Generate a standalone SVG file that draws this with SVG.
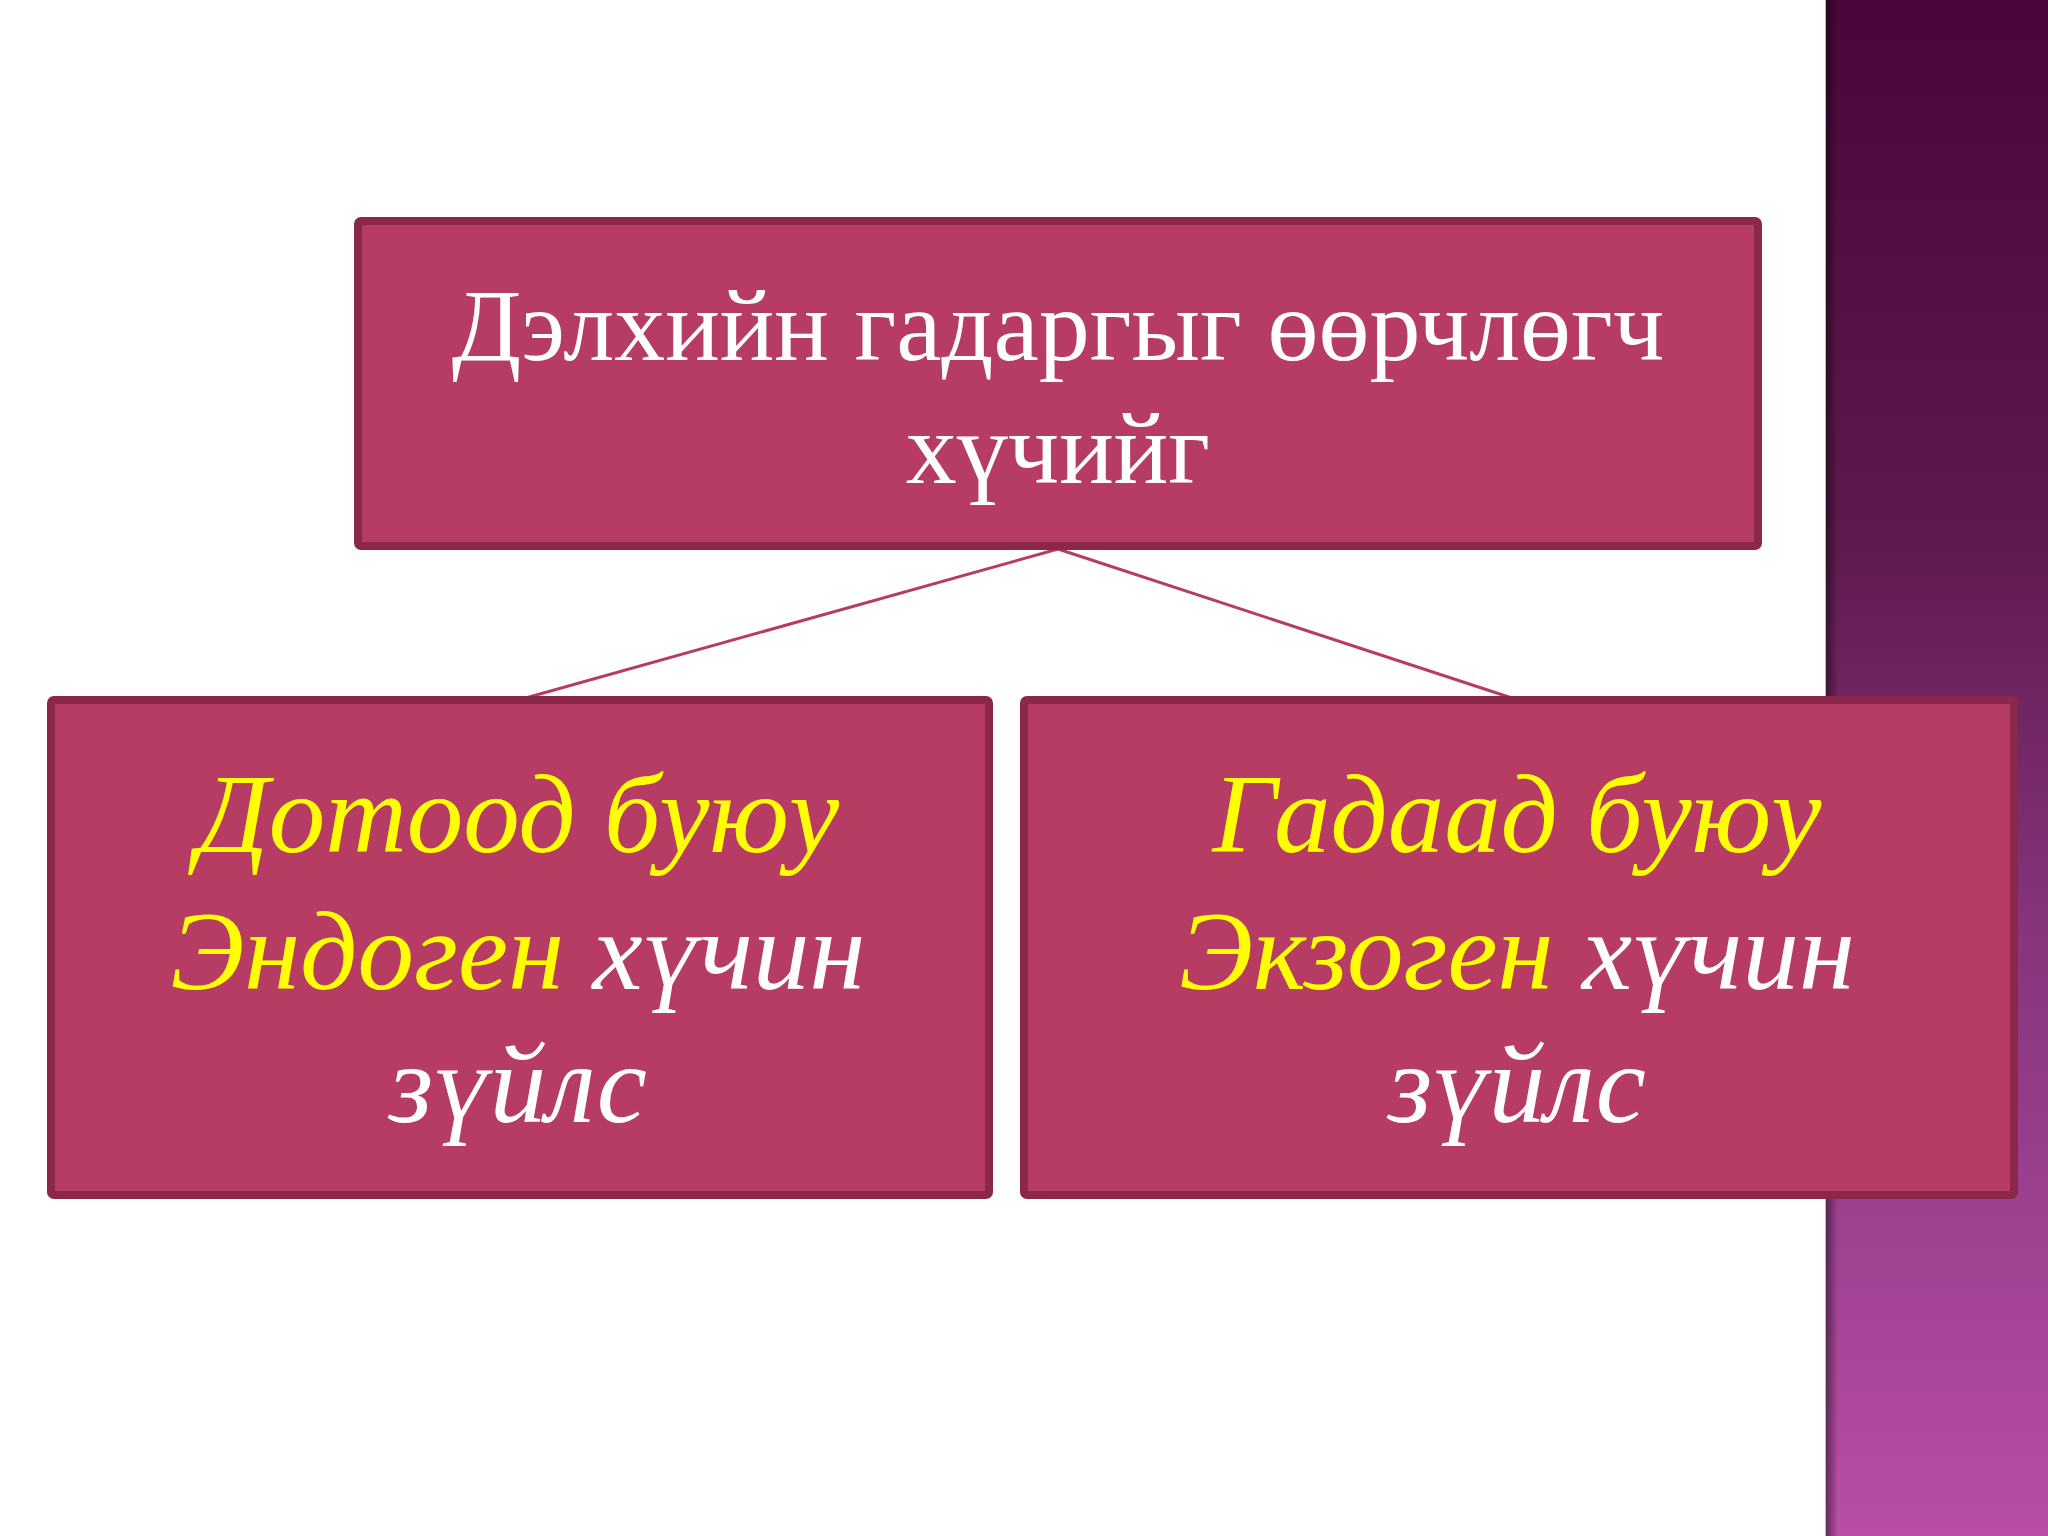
<svg xmlns="http://www.w3.org/2000/svg" width="2048" height="1536" viewBox="0 0 2048 1536">
  <defs>
    <linearGradient id="band" x1="0" y1="0" x2="0" y2="1">
      <stop offset="0" stop-color="#4a063a"/>
      <stop offset="0.35" stop-color="#5e1a4e"/>
      <stop offset="0.6" stop-color="#86347c"/>
      <stop offset="1" stop-color="#b84ea6"/>
    </linearGradient>
    <linearGradient id="bandShadow" x1="0" y1="0" x2="1" y2="0">
      <stop offset="0" stop-color="#000" stop-opacity="0.45"/>
      <stop offset="1" stop-color="#000" stop-opacity="0"/>
    </linearGradient>
    <style>
      .box { fill: #b73c64; stroke: #8b2849; stroke-width: 8; }
      .conn { stroke: #b73c64; stroke-width: 3; fill: none; }
      .top { font-family: "Liberation Serif", "Times New Roman", serif; font-size: 102px; fill: #ffffff; text-anchor: middle; }
      .sub { font-family: "Liberation Serif", "Times New Roman", serif; font-style: italic; font-size: 113px; fill: #ffffff; text-anchor: middle; }
      .y { fill: #ffff00; }
      .w { fill: #ffffff; }
    </style>
  </defs>

  <rect x="0" y="0" width="2048" height="1536" fill="#ffffff"/>

  <!-- decorative side band -->
  <rect x="1826" y="0" width="222" height="1536" fill="url(#band)"/>
  <rect x="1826" y="0" width="12" height="1536" fill="url(#bandShadow)"/>
  <line x1="1825.5" y1="0" x2="1825.5" y2="1536" stroke="#c8b8c4" stroke-width="1"/>

  <g id="connectors">
    <line class="conn" x1="1058" y1="549" x2="522" y2="699"/>
    <line class="conn" x1="1058" y1="549" x2="1515" y2="699"/>
  </g>

  <g id="node-top">
    <rect class="box" x="358" y="221" width="1400" height="325" rx="3"/>
    <text class="top" x="1058" y="360">Дэлхийн гадаргыг өөрчлөгч</text>
    <text class="top" x="1058" y="483">хүчийг</text>
  </g>

  <g id="node-left">
    <rect class="box" x="51" y="700" width="938" height="495" rx="3"/>
    <text class="sub" x="518" y="852"><tspan class="y">Дотоод буюу</tspan></text>
    <text class="sub" x="518" y="989"><tspan class="y">Эндоген</tspan> <tspan class="w">хүчин</tspan></text>
    <text class="sub" x="518" y="1122">зүйлс</text>
  </g>

  <g id="node-right">
    <rect class="box" x="1024" y="700" width="990" height="495" rx="3"/>
    <text class="sub" x="1517" y="852"><tspan class="y">Гадаад буюу</tspan></text>
    <text class="sub" x="1517" y="989"><tspan class="y">Экзоген</tspan> <tspan class="w">хүчин</tspan></text>
    <text class="sub" x="1517" y="1122">зүйлс</text>
  </g>
</svg>
